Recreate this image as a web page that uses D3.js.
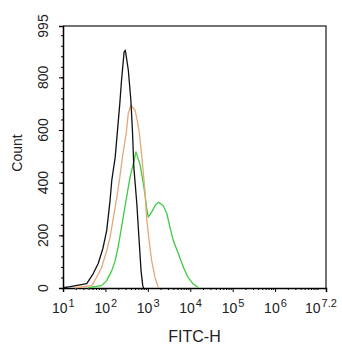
<!DOCTYPE html>
<html>
<head>
<meta charset="utf-8">
<script src="https://cdn.jsdelivr.net/npm/d3@7"></script>
<style>
  html, body { margin: 0; padding: 0; background: #fff; overflow: hidden; }
  svg { display: block; }
  text { font-family: Arial, "Liberation Sans", sans-serif; fill: #222; }
</style>
</head>
<body>
<div id="chart"></div>
<script>
// log10(FITC-H) and count
var blackLog   = [1.00, 1.17, 1.56, 1.71, 1.83, 1.94, 2.03, 2.11, 2.15, 2.23, 2.34, 2.38, 2.44, 2.47, 2.54, 2.60, 2.64, 2.67, 2.74, 2.79, 2.84, 2.88, 2.90];
var blackCount = [1, 5, 17, 54, 93, 150, 218, 333, 409, 496, 702, 789, 896, 903, 827, 713, 588, 458, 321, 192, 66, 9, 0];

var orangeLog   = [1.28, 1.68, 1.79, 1.91, 2.03, 2.11, 2.19, 2.27, 2.34, 2.40, 2.49, 2.54, 2.60, 2.70, 2.75, 2.80, 2.86, 2.93, 2.97, 3.03, 3.09, 3.17, 3.25];
var orangeCount = [1, 9, 40, 78, 142, 193, 269, 345, 421, 495, 588, 664, 694, 675, 637, 588, 496, 371, 268, 180, 104, 39, 1];

var greenLog   = [1.59, 1.91, 2.03, 2.15, 2.23, 2.30, 2.38, 2.46, 2.54, 2.58, 2.66, 2.72, 2.82, 2.88, 2.93, 2.97, 3.01, 3.09, 3.17, 3.25, 3.36, 3.45, 3.52, 3.60, 3.72, 3.84, 3.95, 4.07, 4.19];
var greenCount = [1, 9, 28, 66, 104, 155, 231, 307, 383, 420, 474, 517, 466, 409, 359, 307, 269, 288, 313, 326, 313, 282, 231, 180, 130, 78, 40, 15, 2];

var xDecades = [1, 2, 3, 4, 5, 6, 7.2];
var yTicks = [0, 200, 400, 600, 800, 995];

var width = 342, height = 350,
    margin = {top: 26, right: 16, bottom: 62, left: 63},
    innerWidth = width - margin.left - margin.right,
    innerHeight = height - margin.top - margin.bottom;

var svg = d3.select("#chart").append("svg")
    .attr("width", width)
    .attr("height", height);

var g = svg.append("g")
    .attr("transform", "translate(" + margin.left + "," + margin.top + ")");

var x = d3.scaleLog().domain([10, Math.pow(10, 7.2)]).range([0, innerWidth]);
var y = d3.scaleLinear().domain([0, 995]).range([innerHeight, 0]);

function noText(a) { a.selectAll(".tick text").remove(); }

// frame (top and right)
g.append("path")
    .attr("d", "M0,0H" + innerWidth + "V" + innerHeight)
    .attr("fill", "none")
    .attr("stroke", "#444")
    .attr("stroke-width", 1.5);

// x minor ticks
var xMinor = [];
for (var e = 1; e <= 7; e++) {
    for (var m = 1; m < 10; m++) {
        var v = m * Math.pow(10, e);
        if (v <= Math.pow(10, 7.2) && !(m === 1 && e < 7)) xMinor.push(v);
    }
}
g.append("g")
    .attr("transform", "translate(0," + innerHeight + ")")
    .call(d3.axisBottom(x).tickValues(xMinor).tickSize(2))
    .call(noText)
    .call(function (a) { a.select(".domain").remove(); });

var xAxis = g.append("g")
    .attr("transform", "translate(0," + innerHeight + ")")
    .call(d3.axisBottom(x)
        .tickValues(xDecades.map(function (d) { return Math.pow(10, d); }))
        .tickSize(4))
    .call(noText);
xAxis.select(".domain").attr("stroke-width", 1.5);

// x labels: 10 with a raised exponent
g.append("g").attr("class", "x-labels")
    .selectAll("text")
    .data(xDecades)
    .enter().append("text")
    .attr("x", function (d) { return x(Math.pow(10, d)) + (d > 7 ? -13 : -3); })
    .attr("y", innerHeight + 25)
    .attr("text-anchor", "middle")
    .style("font-size", "14px")
    .each(function (d) {
        var t = d3.select(this);
        t.append("tspan").text("10");
        t.append("tspan")
            .attr("dx", 1)
            .attr("dy", -6)
            .style("font-size", "11px")
            .text(d);
    })
    .attr("text-anchor", "start")
    .attr("dx", -8);

// y minor ticks
g.append("g")
    .call(d3.axisLeft(y).tickValues(d3.range(0, 995, 40)).tickSize(2))
    .call(noText)
    .call(function (a) { a.select(".domain").remove(); });

var yAxis = g.append("g")
    .call(d3.axisLeft(y).tickValues(yTicks).tickSize(4))
    .call(noText);
yAxis.select(".domain").attr("stroke-width", 1.5);

g.append("g").attr("class", "y-labels")
    .selectAll("text")
    .data(yTicks)
    .enter().append("text")
    .attr("transform", function (d) { return "translate(-15," + y(d) + ") rotate(-90)"; })
    .attr("text-anchor", "middle")
    .style("font-size", "14px")
    .text(function (d) { return d; });

// axis titles
svg.append("text")
    .attr("x", margin.left + innerWidth / 2)
    .attr("y", 342)
    .attr("text-anchor", "middle")
    .style("font-size", "16px")
    .text("FITC-H");

svg.append("text")
    .attr("transform", "translate(22,153) rotate(-90)")
    .attr("text-anchor", "middle")
    .style("font-size", "14px")
    .text("Count");

// histograms
var line = d3.line()
    .x(function (d) { return x(Math.pow(10, d[0])); })
    .y(function (d) { return y(d[1]); });

var series = [
    {xs: greenLog, ys: greenCount, color: "#3fcc3f"},
    {xs: orangeLog, ys: orangeCount, color: "#e6a878"},
    {xs: blackLog, ys: blackCount, color: "#111"}
];

g.selectAll(".hist")
    .data(series)
    .enter().append("path")
    .attr("class", "hist")
    .attr("fill", "none")
    .attr("stroke", function (d) { return d.color; })
    .attr("stroke-width", 1.3)
    .attr("stroke-linejoin", "round")
    .attr("d", function (d) { return line(d3.zip(d.xs, d.ys)); });
</script>
</body>
</html>
